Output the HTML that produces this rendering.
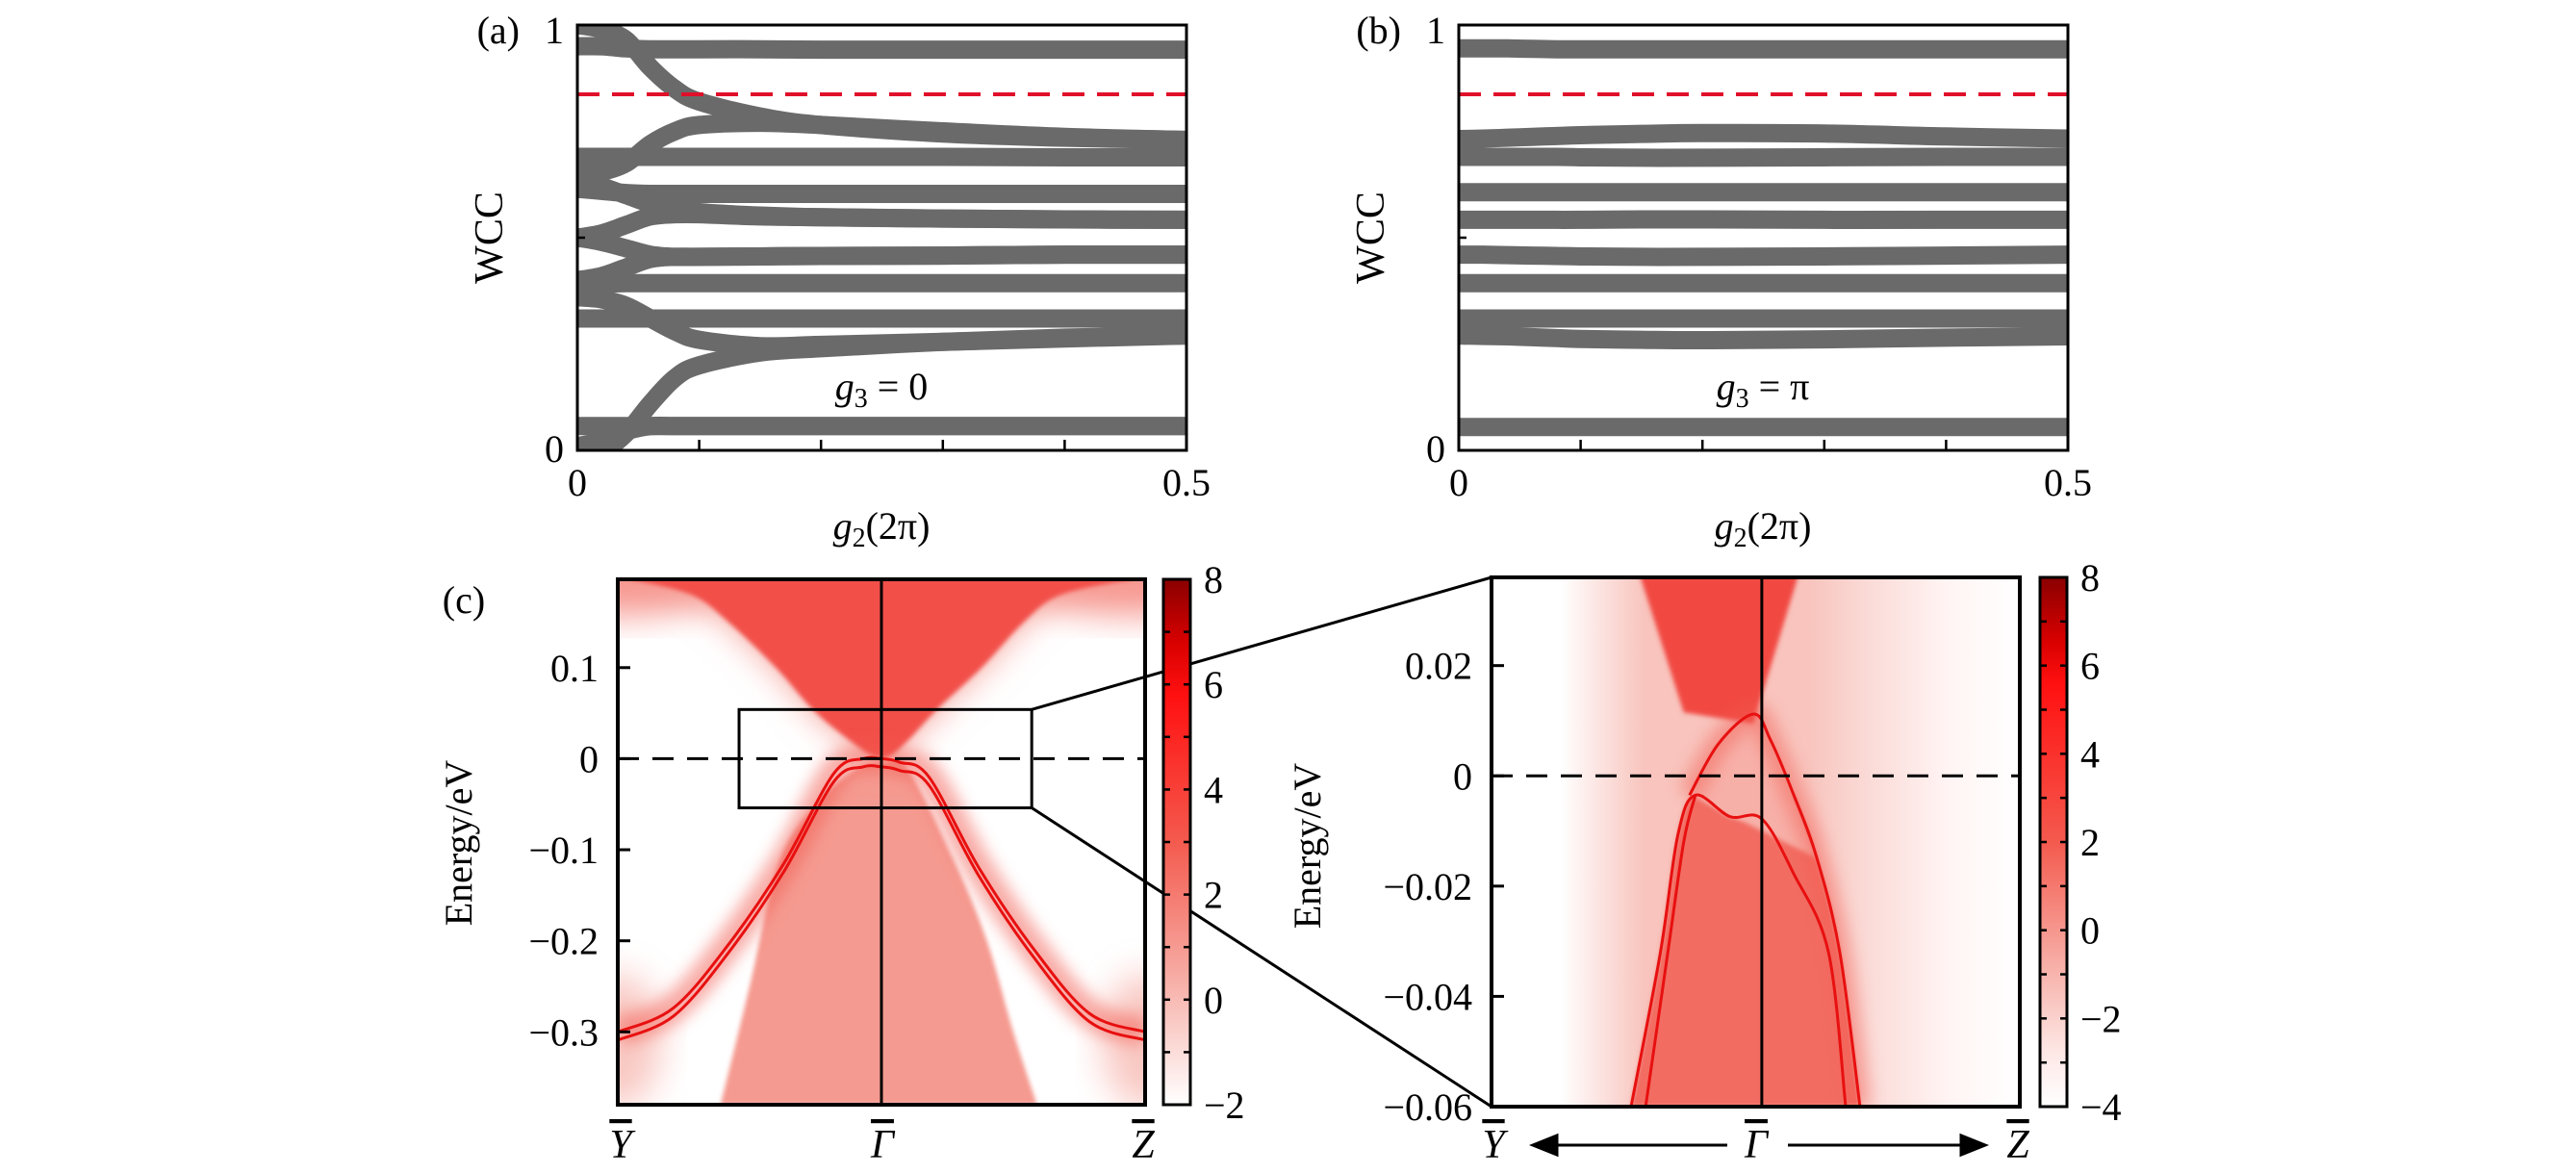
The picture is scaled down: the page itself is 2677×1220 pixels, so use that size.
<!DOCTYPE html>
<html><head><meta charset="utf-8">
<style>
html,body{margin:0;padding:0;background:#fff;}
svg{display:block;}
text{font-family:"Liberation Serif",serif;fill:#000;}
</style></head>
<body>
<svg id="fig" width="2677" height="1220" viewBox="0 0 2677 1220" xmlns="http://www.w3.org/2000/svg">
<defs>
  <filter id="blur8" x="-20%" y="-20%" width="140%" height="140%"><feGaussianBlur stdDeviation="8"/></filter>
  <filter id="blur18" x="-30%" y="-30%" width="160%" height="160%"><feGaussianBlur stdDeviation="18"/></filter>
  <filter id="blur3"><feGaussianBlur stdDeviation="2.5"/></filter>
  <clipPath id="clipA"><rect x="600" y="26" width="633" height="442"/></clipPath>
  <clipPath id="clipB"><rect x="1516" y="26" width="633" height="442"/></clipPath>
  <clipPath id="clipC"><rect x="642" y="602" width="548" height="546"/></clipPath>
  <clipPath id="clipD"><rect x="1550" y="600" width="549" height="550"/></clipPath>
  <linearGradient id="cbar" x1="0" y1="0" x2="0" y2="1">
    <stop offset="0" stop-color="#8a0000"/>
    <stop offset="0.12" stop-color="#d80000"/>
    <stop offset="0.22" stop-color="#ff1010"/>
    <stop offset="0.5" stop-color="#f45a4e"/>
    <stop offset="0.75" stop-color="#f6aaa2"/>
    <stop offset="1" stop-color="#ffffff"/>
  </linearGradient>
  <linearGradient id="cbarD" x1="0" y1="0" x2="0" y2="1">
    <stop offset="0" stop-color="#8a0000"/>
    <stop offset="0.12" stop-color="#d80000"/>
    <stop offset="0.2" stop-color="#ff1010"/>
    <stop offset="0.5" stop-color="#f45a4e"/>
    <stop offset="0.72" stop-color="#f6aaa2"/>
    <stop offset="0.9" stop-color="#fde8e6"/>
    <stop offset="1" stop-color="#ffffff"/>
  </linearGradient>
  <linearGradient id="bgD" x1="1550" y1="0" x2="2099" y2="0" gradientUnits="userSpaceOnUse">
    <stop offset="0" stop-color="#ffffff"/>
    <stop offset="0.13" stop-color="#ffffff"/>
    <stop offset="0.29" stop-color="#f8c4bd"/>
    <stop offset="0.6" stop-color="#f8c4bd"/>
    <stop offset="0.7" stop-color="#fad8d4"/>
    <stop offset="0.86" stop-color="#fff4f3"/>
    <stop offset="1" stop-color="#ffffff"/>
  </linearGradient>
</defs>
<g id="root"></g>
</svg>
<script>
// ---------- data ----------
const gGrid = [0,0.02,0.04,0.06,0.08,0.1,0.15,0.2,0.3,0.4,0.5];
const wccA1 = [0.95,0.95,0.945,0.943,0.943,0.943,0.943,0.942,0.942,0.942,0.942];
const wccA2 = [1.0,0.99,0.965,0.9,0.85,0.82,0.785,0.765,0.745,0.735,0.73];
const wccA3 = [0.65,0.655,0.675,0.72,0.75,0.765,0.77,0.765,0.75,0.737,0.73];
const wccA4 = [0.69,0.69,0.69,0.69,0.69,0.69,0.69,0.69,0.69,0.689,0.689];
const wccA5 = [0.615,0.61,0.605,0.603,0.603,0.603,0.603,0.603,0.603,0.603,0.603];
const wccA6 = [0.63,0.62,0.6,0.58,0.57,0.56,0.552,0.548,0.545,0.543,0.542];
const wccA7 = [0.5,0.51,0.53,0.55,0.555,0.555,0.55,0.548,0.545,0.543,0.542];
const wccA8 = [0.5,0.49,0.475,0.46,0.455,0.455,0.456,0.457,0.458,0.46,0.46];
const wccA9 = [0.4,0.41,0.43,0.45,0.455,0.455,0.456,0.457,0.458,0.46,0.46];
const wccA10 = [0.39,0.392,0.393,0.393,0.393,0.393,0.393,0.393,0.393,0.393,0.393];
const wccA11 = [0.36,0.355,0.34,0.31,0.28,0.26,0.245,0.248,0.255,0.263,0.27];
const wccA12 = [0.31,0.31,0.31,0.31,0.31,0.31,0.31,0.31,0.31,0.31,0.31];
const wccA13 = [-0.03,-0.005,0.04,0.11,0.17,0.2,0.23,0.24,0.255,0.265,0.27];
const wccA14 = [0.057,0.057,0.057,0.057,0.057,0.057,0.057,0.057,0.057,0.057,0.057];
const wccA15 = [0.01,0.022,0.045,0.057,0.057,0.057,0.057,0.057,0.057,0.057,0.057];
const wccB1 = [0.945,0.945,0.945,0.944,0.943,0.943,0.943,0.943,0.943,0.943,0.943];
const wccB2 = [0.732,0.733,0.735,0.737,0.739,0.741,0.744,0.746,0.745,0.738,0.733];
const wccB3 = [0.69,0.69,0.69,0.69,0.69,0.689,0.688,0.688,0.689,0.69,0.69];
const wccB4 = [0.607,0.607,0.607,0.607,0.607,0.607,0.607,0.607,0.607,0.607,0.607];
const wccB5 = [0.542,0.542,0.542,0.542,0.542,0.542,0.543,0.543,0.542,0.542,0.542];
const wccB6 = [0.46,0.46,0.459,0.458,0.457,0.456,0.455,0.455,0.456,0.458,0.46];
const wccB7 = [0.393,0.393,0.393,0.393,0.393,0.393,0.393,0.393,0.393,0.393,0.393];
const wccB8 = [0.31,0.31,0.31,0.31,0.31,0.31,0.31,0.31,0.31,0.31,0.31];
const wccB9 = [0.27,0.269,0.268,0.266,0.264,0.262,0.26,0.259,0.261,0.265,0.268];
const wccB10 = [0.055,0.055,0.055,0.055,0.055,0.055,0.055,0.055,0.055,0.055,0.055];
const wccRef = 0.837;
const gTicks = [0,0.1,0.2,0.3,0.4,0.5];

// panel c
const cYTicks = [0.1,0,-0.1,-0.2,-0.3];
const cYTickLabels = ["0.1","0","\u22120.1","\u22120.2","\u22120.3"];
const cUpK = [-0.95,-0.72,-0.58,-0.4,-0.26,-0.12,-0.03,0.03,0.1,0.21,0.38,0.54,0.68,0.95];
const cUpE = [0.197,0.18,0.15,0.1,0.054,0.02,0.003,0.003,0.02,0.054,0.1,0.15,0.18,0.197];
const cLowK = [-0.61,-0.5,-0.39,-0.25,-0.1,0,0.1,0.28,0.4,0.5,0.59];
const cLowE = [-0.38,-0.25,-0.115,-0.05,-0.012,-0.004,-0.012,-0.115,-0.2,-0.3,-0.38];
const cSurfK = [-1,-0.79,-0.58,-0.37,-0.18,-0.07,0,0.07,0.18,0.37,0.58,0.79,1];
const cSurfE = [-0.3,-0.274,-0.204,-0.115,-0.016,0.0,0.0,-0.004,-0.02,-0.12,-0.21,-0.28,-0.3];
const cBoxK = [-0.54,0.57];
const cBoxE = [0.054,-0.054];
const cbarCTicks = [8,6,4,2,0,-2];

// panel d
const dYTicks = [0.02,0,-0.02,-0.04,-0.06];
const dYTickLabels = ["0.02","0","\u22120.02","\u22120.04","\u22120.06"];
const dUpK = [-0.44,-0.27,-0.007,0.167];
const dUpE = [0.037,0.0115,0.0095,0.037];
const dArcK = [-0.248,-0.139,-0.007,0.058,0.146,0.233,0.32,0.396];
const dArcE = [-0.0035,0.0058,0.0112,0.0065,-0.0035,-0.0149,-0.0321,-0.06];
const dLowK = [-0.469,-0.358,-0.292,-0.226,-0.095,0.025,0.146,0.277,0.342];
const dLowE = [-0.06,-0.032,-0.0107,-0.0035,-0.0074,-0.0078,-0.0178,-0.032,-0.06];
const dLow2K = [-0.414,-0.33,-0.27,-0.226];
const dLow2E = [-0.06,-0.032,-0.012,-0.0035];
const cbarDTicks = [8,6,4,2,0,-2,-4];

// ---------- helpers ----------
const NS = "http://www.w3.org/2000/svg";
const root = document.getElementById('root');
function el(tag, attrs, parent){
  const e = document.createElementNS(NS, tag);
  for (const k in attrs) e.setAttribute(k, attrs[k]);
  (parent||root).appendChild(e);
  return e;
}
function lin(d0,d1,r0,r1){ return v => r0 + (v-d0)*(r1-r0)/(d1-d0); }
function smoothBody(pts){
  let d = "";
  for (let i=0;i<pts.length-1;i++){
    const p0=pts[i-1]||pts[i], p1=pts[i], p2=pts[i+1], p3=pts[i+2]||p2;
    const c1x=p1[0]+(p2[0]-p0[0])/6, c1y=p1[1]+(p2[1]-p0[1])/6;
    const c2x=p2[0]-(p3[0]-p1[0])/6, c2y=p2[1]-(p3[1]-p1[1])/6;
    d += " C"+c1x+","+c1y+" "+c2x+","+c2y+" "+p2[0]+","+p2[1];
  }
  return d;
}
function smooth(pts){
  if (pts.length<2) return "";
  return "M"+pts[0][0]+","+pts[0][1]+smoothBody(pts);
}
function txt(x,y,s,size,anchor,parent,italic){
  const t = el('text',{x:x,y:y,'font-size':size,'text-anchor':anchor||'middle'},parent);
  if (italic) t.setAttribute('font-style','italic');
  t.textContent = s;
  return t;
}

// ---------- WCC panels ----------
function wccPanel(px0, label, bands, annot, pname){
  const g = el('g',{});
  
  
  const xs = lin(0,0.5,px0,px0+633), ys = lin(0,1,468,26);
  const bg = el('g',{'clip-path':'url(#'+(pname==='panel-a'?'clipA':'clipB')+')'},g);
  bands.forEach((arr,i)=>{
    const pts = gGrid.map((gv,j)=>[xs(gv),ys(arr[j])]);
    const p = el('path',{d:smooth(pts),fill:'none',stroke:'#6a6a6a','stroke-width':19},bg);
    
    
  });
  const ref = el('line',{x1:xs(0),x2:xs(0.5),y1:ys(wccRef),y2:ys(wccRef),stroke:'#e0102a','stroke-width':4,'stroke-dasharray':'23,13'},g);
  
  
  const fr = el('rect',{x:px0,y:26,width:633,height:442,fill:'none',stroke:'#000','stroke-width':3},g);
  
  
  gTicks.forEach(t=>{
    el('line',{x1:xs(t),x2:xs(t),y1:468,y2:457,stroke:'#000','stroke-width':2.5},g);
  });
  el('line',{x1:px0,x2:px0+8,y1:ys(0.5),y2:ys(0.5),stroke:'#000','stroke-width':2.5},g);
  const l1 = txt(xs(0),515,'0',40,'middle',g);  
  const l2 = txt(xs(0.5),515,'0.5',40,'middle',g);  
  const y1 = txt(px0-14,45,'1',40,'end',g);  
  const y0 = txt(px0-14,480,'0',40,'end',g);  
  const pl = txt(px0-60,45,label,40,'end',g);  
  const yl = el('text',{x:0,y:0,'font-size':42,'text-anchor':'middle',transform:'translate('+(px0-78)+',247) rotate(-90)'},g);
  yl.textContent='WCC';
   
  const xl = el('text',{x:px0+316,y:560,'font-size':40,'text-anchor':'middle'},g);
  xl.innerHTML = '<tspan font-style="italic">g</tspan><tspan font-size="28" dy="8">2</tspan><tspan dy="-8">(2\u03c0)</tspan>';
   
  const an = el('text',{x:px0+316,y:415,'font-size':40,'text-anchor':'middle'},g);
  an.innerHTML = '<tspan font-style="italic">g</tspan><tspan font-size="28" dy="8">3</tspan><tspan dy="-8"> = '+annot+'</tspan>';
   
}
wccPanel(600,'(a)',[wccA1,wccA2,wccA3,wccA4,wccA5,wccA6,wccA7,wccA8,wccA9,wccA10,wccA11,wccA12,wccA13,wccA14,wccA15],'0','panel-a');
wccPanel(1516,'(b)',[wccB1,wccB2,wccB3,wccB4,wccB5,wccB6,wccB7,wccB8,wccB9,wccB10],'\u03c0','panel-b');

// ---------- colorbar ----------
function colorbar(x,y0,y1,ticks,grad,name){
  const g = el('g',{});
  
  
  el('rect',{x:x,y:y0,width:28,height:y1-y0,fill:'url(#'+grad+')',stroke:'#000','stroke-width':3},g);
  const vmax=ticks[0], vmin=ticks[ticks.length-1];
  const s = lin(vmin,vmax,y1,y0);
  for (let v=vmin+1; v<vmax; v++){
    el('line',{x1:x,x2:x+7,y1:s(v),y2:s(v),stroke:'#000','stroke-width':2.5},g);
    el('line',{x1:x+21,x2:x+28,y1:s(v),y2:s(v),stroke:'#000','stroke-width':2.5},g);
  }
  ticks.forEach(v=>{
    const t = txt(x+42,s(v)+14,(v<0?'\u2212':'')+Math.abs(v),40,'start',g);
    
    
  });
}

// ---------- panel c ----------
(function(){
  const g = el('g',{});
  
  
  const xs = lin(-1,1,642,1190), ys = lin(0.197,-0.38,602,1148);
  const hm = el('g',{'clip-path':'url(#clipC)'},g);
  // edge glows
  el('ellipse',{cx:xs(-1),cy:ys(-0.31),rx:45,ry:70,fill:'#f6b0a8',opacity:0.7,filter:'url(#blur18)'},hm);
  el('ellipse',{cx:xs(1),cy:ys(-0.31),rx:45,ry:70,fill:'#f6b0a8',opacity:0.7,filter:'url(#blur18)'},hm);
  el('ellipse',{cx:xs(-1),cy:ys(0.2),rx:120,ry:40,fill:'#f47c72',opacity:0.8,filter:'url(#blur18)'},hm);
  el('ellipse',{cx:xs(1),cy:ys(0.2),rx:140,ry:40,fill:'#f47c72',opacity:0.8,filter:'url(#blur18)'},hm);
  // lower valence region
  const low = cLowK.map((k,i)=>[xs(k),ys(cLowE[i])]);
  const lp = el('path',{d:smooth(low)+" Z",fill:'#f59a90',filter:'url(#blur3)'},hm);
   
  // upper conduction region
  const up = cUpK.map((k,i)=>[xs(k),ys(cUpE[i])]);
  el('path',{d:smooth(up)+" L"+xs(1)+","+ys(0.25)+" L"+xs(-1)+","+ys(0.25)+" Z",fill:'#f6a098',filter:'url(#blur18)'},hm);
  const upp = el('path',{d:smooth(up)+" L"+xs(0.95)+","+ys(0.25)+" L"+xs(-0.95)+","+ys(0.25)+" Z",fill:'#f24f48',filter:'url(#blur3)'},hm);
   
  // surface states
  const surf = cSurfK.map((k,i)=>[xs(k),ys(cSurfE[i])]);
  const surf2 = cSurfK.map((k,i)=>[xs(k),ys(cSurfE[i]-0.009)]);
  el('path',{d:smooth(surf),fill:'none',stroke:'#f25a50','stroke-width':30,opacity:0.5,filter:'url(#blur8)'},hm);
  const s1 = el('path',{d:smooth(surf),fill:'none',stroke:'#e81010','stroke-width':3},hm);
   
  const s2 = el('path',{d:smooth(surf2),fill:'none',stroke:'#e81010','stroke-width':3},hm);
   
  // gamma line, fermi line
  el('line',{x1:xs(0),x2:xs(0),y1:602,y2:1148,stroke:'#000','stroke-width':3},g);
  const fl = el('line',{x1:642,x2:1190,y1:ys(0),y2:ys(0),stroke:'#000','stroke-width':3,'stroke-dasharray':'22,14'},g);
   
  const bx = el('rect',{x:xs(cBoxK[0]),y:ys(cBoxE[0]),width:xs(cBoxK[1])-xs(cBoxK[0]),height:ys(cBoxE[1])-ys(cBoxE[0]),fill:'none',stroke:'#000','stroke-width':3},g);
   
  el('line',{x1:xs(cBoxK[1]),y1:ys(cBoxE[0]),x2:1550,y2:600,stroke:'#000','stroke-width':3},g);
  el('line',{x1:xs(cBoxK[1]),y1:ys(cBoxE[1]),x2:1550,y2:1150,stroke:'#000','stroke-width':3},g);
  el('rect',{x:642,y:602,width:548,height:546,fill:'none',stroke:'#000','stroke-width':4},g);
  cYTicks.forEach((v,i)=>{
    el('line',{x1:642,x2:655,y1:ys(v),y2:ys(v),stroke:'#000','stroke-width':3},g);
    const t = txt(622,ys(v)+14,cYTickLabels[i],40,'end',g);
     
  });
  const pl = txt(482,637,'(c)',40,'middle',g);  
  const yl = el('text',{x:0,y:0,'font-size':40,'text-anchor':'middle',transform:'translate(490,876) rotate(-90)'},g);
  yl.textContent='Energy/eV';  
  [['Y',645],['\u0393',917],['Z',1188]].forEach(([s,x])=>{
    const t = txt(x,1203,s,42,'middle',g,true);
    t.setAttribute('text-decoration','overline');
     
  });
  colorbar(1209,602,1148,cbarCTicks,'cbar','colorbar-c');
})();

// ---------- panel d ----------
(function(){
  const g = el('g',{});
  
  
  const xs = lin(-1,1,1549,2099), ys = lin(0.036,-0.06,600,1150);
  const hm = el('g',{'clip-path':'url(#clipD)'},g);
  el('rect',{x:1550,y:600,width:549,height:550,fill:'url(#bgD)'},hm);
  const low = dLowK.map((k,i)=>[xs(k),ys(dLowE[i])]);
  const arc = dArcK.map((k,i)=>[xs(k),ys(dArcE[i])]);
  // valence region: left lower line up to apex, hump, then down along the outer arc
  const lowLeft = low.slice(0,6);
  const arcRight = arc.slice(4);
  const vpath = smooth(lowLeft) + " L" + arcRight[0][0] + "," + arcRight[0][1] + smoothBody(arcRight) + " Z";
  el('path',{d:smooth(arc.slice(0,6))+" Z",fill:'#f7aaa2',filter:'url(#blur3)'},hm);
  const vp = el('path',{d:vpath,fill:'#f26c62',filter:'url(#blur3)'},hm);
   
  el('path',{d:smooth(arc.slice(0,6))+" Z",fill:'#f7b0a8',filter:'url(#blur3)'},hm);
  const up = dUpK.map((k,i)=>[xs(k),ys(dUpE[i])]);
  const upp = el('path',{d:"M"+up.map(p=>p.join(',')).join(' L')+" Z",fill:'#f14a42',filter:'url(#blur3)'},hm);
   
  el('path',{d:smooth(arc),fill:'none',stroke:'#f25a50','stroke-width':24,opacity:0.45,filter:'url(#blur8)'},hm);
  const a1 = el('path',{d:smooth(arc),fill:'none',stroke:'#e81010','stroke-width':3},hm);
   
  const a2 = el('path',{d:smooth(low),fill:'none',stroke:'#e81010','stroke-width':3},hm);
   
  const l2 = dLow2K.map((k,i)=>[xs(k),ys(dLow2E[i])]);
  const a3 = el('path',{d:smooth(l2),fill:'none',stroke:'#e81010','stroke-width':3},hm);
   
  el('line',{x1:xs(0.025),x2:xs(0.025),y1:600,y2:1150,stroke:'#000','stroke-width':3},g);
  const fl = el('line',{x1:1550,x2:2099,y1:ys(0),y2:ys(0),stroke:'#000','stroke-width':3,'stroke-dasharray':'22,14'},g);
   
  el('rect',{x:1550,y:600,width:549,height:550,fill:'none',stroke:'#000','stroke-width':4},g);
  dYTicks.forEach((v,i)=>{
    el('line',{x1:1550,x2:1563,y1:ys(v),y2:ys(v),stroke:'#000','stroke-width':3},g);
    const t = txt(1530,ys(v)+14,dYTickLabels[i],40,'end',g);
     
  });
  const yl = el('text',{x:0,y:0,'font-size':40,'text-anchor':'middle',transform:'translate(1372,879) rotate(-90)'},g);
  yl.textContent='Energy/eV';  
  [['Y',1552],['\u0393',1825],['Z',2097]].forEach(([s,x])=>{
    const t = txt(x,1203,s,42,'middle',g,true);
    t.setAttribute('text-decoration','overline');
     
  });
  const ar1 = el('path',{d:'M1795,1190 L1612,1190 M1593,1190 L1618,1180 L1618,1200 Z',stroke:'#000','stroke-width':3,fill:'#000'},g);
   
  const ar2 = el('path',{d:'M1858,1190 L2044,1190 M2063,1190 L2038,1180 L2038,1200 Z',stroke:'#000','stroke-width':3,fill:'#000'},g);
   
  colorbar(2120,600,1150,cbarDTicks,'cbarD','colorbar-d');
})();
</script>
</body></html>
